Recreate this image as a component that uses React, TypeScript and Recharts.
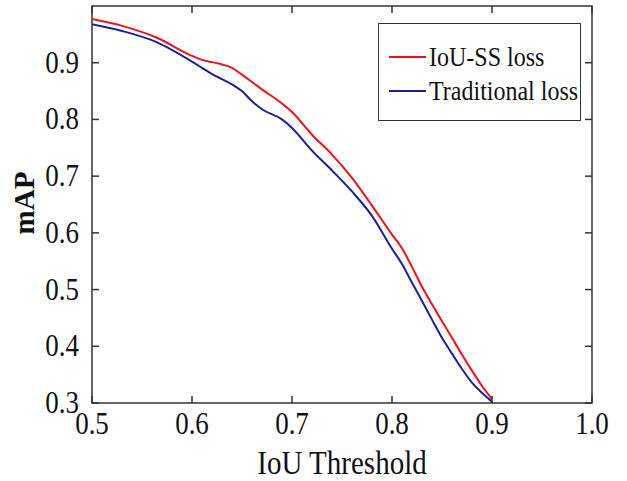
import React from 'react';
import { LineChart, Line, XAxis, YAxis, ReferenceArea, Legend } from 'recharts';

const iouThresholds = [0.5, 0.53, 0.565, 0.6, 0.61, 0.62, 0.63, 0.64, 0.65, 0.66, 0.67, 0.69, 0.7, 0.72, 0.74, 0.76, 0.78, 0.8, 0.81, 0.82, 0.83, 0.84, 0.85, 0.86, 0.87, 0.88, 0.89, 0.9];
const iouSSLoss = [0.977, 0.965, 0.944, 0.912, 0.905, 0.901, 0.897, 0.891, 0.879, 0.866, 0.853, 0.828, 0.813, 0.773, 0.738, 0.697, 0.648, 0.597, 0.573, 0.54, 0.505, 0.474, 0.444, 0.415, 0.385, 0.357, 0.33, 0.307];
const traditionalLoss = [0.968, 0.956, 0.936, 0.902, 0.891, 0.88, 0.871, 0.862, 0.85, 0.832, 0.818, 0.8, 0.785, 0.745, 0.71, 0.673, 0.63, 0.572, 0.545, 0.512, 0.48, 0.447, 0.415, 0.387, 0.36, 0.336, 0.318, 0.302];
const xTicks = [0.5, 0.6, 0.7, 0.8, 0.9, 1.0];
const yTicks = [0.3, 0.4, 0.5, 0.6, 0.7, 0.8, 0.9];
const seriesNames = ['IoU-SS loss', 'Traditional loss'];
const seriesColors = ['#f2101c', '#1e1e96'];

const data = iouThresholds.map((t, i) => ({ t, a: iouSSLoss[i], b: traditionalLoss[i] }));

const W = 627;
const H = 481;
const LEFT = 92;
const RIGHT = 592;
const TOP = 6;
const BOTTOM = 403;
const FONT = '"Liberation Serif", "Times New Roman", serif';
const AX = '#333';
const STRETCH = 1.15;

const XTick = (props: any) => {
  const { x, payload } = props;
  return (
    <g>
      <line x1={x} x2={x} y1={BOTTOM} y2={BOTTOM - 7} stroke={AX} strokeWidth={1.5} />
      <line x1={x} x2={x} y1={TOP} y2={TOP + 7} stroke={AX} strokeWidth={1.5} />
      <text
        x={0}
        y={0}
        transform={`translate(${x}, 434) scale(1, ${STRETCH})`}
        textAnchor="middle"
        fontFamily={FONT}
        fontSize={27}
        fill="#111"
      >
        {Number(payload.value).toFixed(1)}
      </text>
    </g>
  );
};

const YTick = (props: any) => {
  const { y, payload } = props;
  return (
    <g>
      <line x1={LEFT} x2={LEFT + 7} y1={y} y2={y} stroke={AX} strokeWidth={1.5} />
      <line x1={RIGHT} x2={RIGHT - 7} y1={y} y2={y} stroke={AX} strokeWidth={1.5} />
      <text
        x={0}
        y={0}
        transform={`translate(79, ${y + 10}) scale(1, ${STRETCH})`}
        textAnchor="end"
        fontFamily={FONT}
        fontSize={27}
        fill="#111"
      >
        {Number(payload.value).toFixed(1)}
      </text>
    </g>
  );
};

const LegendBox = () => (
  <div
    style={{
      width: 203,
      height: 98,
      boxSizing: 'border-box',
      border: `1.5px solid ${AX}`,
      background: '#fff',
      fontFamily: FONT,
      fontSize: 24,
      color: '#111',
      paddingTop: 16,
      paddingLeft: 10,
    }}
  >
    {seriesNames.map((n, i) => (
      <div key={n} style={{ display: 'flex', alignItems: 'center', height: 34, whiteSpace: 'nowrap' }}>
        <span style={{ display: 'inline-block', width: 37, height: 0, borderTop: `2px solid ${seriesColors[i]}`, marginRight: 3 }} />
        <span style={{ display: 'inline-block', transform: `scaleY(${STRETCH})` }}>{n}</span>
      </div>
    ))}
  </div>
);

export default function App() {
  return (
    <div style={{ position: 'absolute', left: 0, top: 0, width: W, height: H, background: '#fff' }}>
      <LineChart width={W} height={H} data={data} margin={{ top: TOP, right: W - RIGHT, bottom: 0, left: 0 }}>
        <XAxis
          dataKey="t"
          type="number"
          domain={[0.5, 1.0]}
          ticks={xTicks}
          tick={<XTick />}
          tickLine={false}
          axisLine={false}
          height={H - BOTTOM}
          allowDataOverflow
          label={{
            content: () => (
              <text
                x={0}
                y={0}
                transform={`translate(${(LEFT + RIGHT) / 2}, 474) scale(1, ${STRETCH})`}
                textAnchor="middle"
                fontFamily={FONT}
                fontSize={29}
                fill="#111"
              >
                IoU Threshold
              </text>
            ),
          }}
        />
        <YAxis
          type="number"
          domain={[0.3, 1.0]}
          ticks={yTicks}
          tick={<YTick />}
          tickLine={false}
          axisLine={false}
          width={LEFT}
          allowDataOverflow
          label={{
            content: () => (
              <text
                x={0}
                y={0}
                transform={`translate(34, 203) rotate(-90)`}
                textAnchor="middle"
                fontFamily={FONT}
                fontWeight="bold"
                fontSize={29}
                fill="#111"
              >
                mAP
              </text>
            ),
          }}
        />
        <ReferenceArea x1={0.5} x2={1.0} y1={0.3} y2={1.0} fill="none" stroke={AX} strokeWidth={1.5} />
        <Line dataKey="a" name={seriesNames[0]} type="monotone" stroke={seriesColors[0]} strokeWidth={2} dot={false} isAnimationActive={false} />
        <Line dataKey="b" name={seriesNames[1]} type="monotone" stroke={seriesColors[1]} strokeWidth={2} dot={false} isAnimationActive={false} />
        <Legend
          layout="vertical"
          align="center"
          verticalAlign="middle"
          content={() => <LegendBox />}
          wrapperStyle={{ position: 'absolute', left: 378, top: 23, width: 203, height: 98 }}
        />
      </LineChart>
    </div>
  );
}
